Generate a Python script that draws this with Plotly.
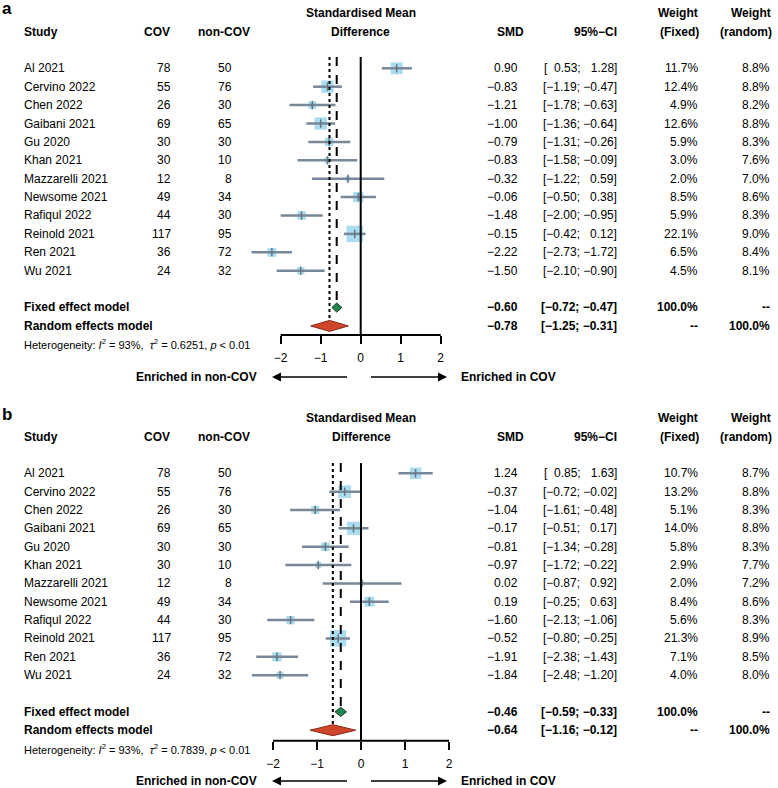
import plotly.graph_objects as go

W, H = 778, 788
FONT = "Liberation Sans, Arial, Helvetica, sans-serif"

# ---- data ---------------------------------------------------------------
studies = ["Al 2021", "Cervino 2022", "Chen 2022", "Gaibani 2021", "Gu 2020",
           "Khan 2021", "Mazzarelli 2021", "Newsome 2021", "Rafiqul 2022",
           "Reinold 2021", "Ren 2021", "Wu 2021"]
n_cov = [78, 55, 26, 69, 30, 30, 12, 49, 44, 117, 36, 24]
n_noncov = [50, 76, 30, 65, 30, 10, 8, 34, 30, 95, 72, 32]

# panel a
smd_a = [0.90, -0.83, -1.21, -1.00, -0.79, -0.83, -0.32, -0.06, -1.48, -0.15, -2.22, -1.50]
lo_a = [0.53, -1.19, -1.78, -1.36, -1.31, -1.58, -1.22, -0.50, -2.00, -0.42, -2.73, -2.10]
hi_a = [1.28, -0.47, -0.63, -0.64, -0.26, -0.09, 0.59, 0.38, -0.95, 0.12, -1.72, -0.90]
wfix_a = [11.7, 12.4, 4.9, 12.6, 5.9, 3.0, 2.0, 8.5, 5.9, 22.1, 6.5, 4.5]
wran_a = [8.8, 8.8, 8.2, 8.8, 8.3, 7.6, 7.0, 8.6, 8.3, 9.0, 8.4, 8.1]
fixed_a = [-0.60, -0.72, -0.47]
random_a = [-0.78, -1.25, -0.31]
tau2_a = "0.6251"

# panel b
smd_b = [1.24, -0.37, -1.04, -0.17, -0.81, -0.97, 0.02, 0.19, -1.60, -0.52, -1.91, -1.84]
lo_b = [0.85, -0.72, -1.61, -0.51, -1.34, -1.72, -0.87, -0.25, -2.13, -0.80, -2.38, -2.48]
hi_b = [1.63, -0.02, -0.48, 0.17, -0.28, -0.22, 0.92, 0.63, -1.06, -0.25, -1.43, -1.20]
wfix_b = [10.7, 13.2, 5.1, 14.0, 5.8, 2.9, 2.0, 8.4, 5.6, 21.3, 7.1, 4.0]
wran_b = [8.7, 8.8, 8.3, 8.8, 8.3, 7.7, 7.2, 8.6, 8.3, 8.9, 8.5, 8.0]
fixed_b = [-0.46, -0.59, -0.33]
random_b = [-0.64, -1.16, -0.12]
tau2_b = "0.7839"

i2 = "93%"
tick_vals = [-2, -1, 0, 1, 2]

# ---- style ---------------------------------------------------------------
SQ = "#87CEEB"
CI = "#778899"
FIX = "#23864d"
RAN = "#d0462b"

panels = [
    dict(label="a", smd=smd_a, lo=lo_a, hi=hi_a, wf=wfix_a, wr=wran_a,
         fixed=fixed_a, random=random_a, tau2=tau2_a,
         off=0, zero_px=360.7, unit=40.0, axis_py=335.0, top_py=57.0,
         row0=68.3, step=18.4, arrow_py=377.0),
    dict(label="b", smd=smd_b, lo=lo_b, hi=hi_b, wf=wfix_b, wr=wran_b,
         fixed=fixed_b, random=random_b, tau2=tau2_b,
         off=405, zero_px=361.0, unit=44.0, axis_py=740.7, top_py=463.0,
         row0=473.3, step=18.35, arrow_py=781.0),
]

X_LEFT, X_RIGHT = 240.0, 460.0


def px(x):
    return x / W


def py(y):
    return 1 - y / H


def num(v):
    s = f"{abs(v):.2f}"
    return ("\u2212" if v < 0 else "\u2007") + s


def smd_txt(v):
    return f"{v:.2f}".replace("-", "\u2212")


fig = go.Figure()
annotations = []
shapes = []


def txt(x, y, s, anchor="left", size=12, bold=False):
    if bold:
        s = f"<b>{s}</b>"
    annotations.append(dict(
        x=px(x), y=py(y), xref="paper", yref="paper", text=s, showarrow=False,
        xanchor=anchor, yanchor="middle", font=dict(size=size, family=FONT, color="black"),
        borderpad=0,
    ))


layout_axes = {}
for k, p in enumerate(panels):
    xname = "x" if k == 0 else f"x{k + 1}"
    yname = "y" if k == 0 else f"y{k + 1}"
    xkey = "xaxis" if k == 0 else f"xaxis{k + 1}"
    ykey = "yaxis" if k == 0 else f"yaxis{k + 1}"
    off = p["off"]
    n = len(studies)
    r_fixed, r_random = n + 1, n + 2
    r_top = (p["top_py"] - p["row0"]) / p["step"]
    r_bot = (p["axis_py"] - p["row0"]) / p["step"]

    layout_axes[xkey] = dict(
        domain=[px(X_LEFT), px(X_RIGHT)],
        range=[(X_LEFT - p["zero_px"]) / p["unit"], (X_RIGHT - p["zero_px"]) / p["unit"]],
        anchor=yname, showgrid=False, zeroline=False, showline=False,
        tickvals=tick_vals, ticks="outside", ticklen=8, tickwidth=2, tickcolor="black",
        tickfont=dict(size=12, family=FONT, color="black"), ticklabelstandoff=4,
    )
    layout_axes[ykey] = dict(
        domain=[py(p["axis_py"]), py(p["top_py"])],
        range=[r_bot, r_top], anchor=xname,
        showgrid=False, zeroline=False, showline=False, showticklabels=False, ticks="",
    )

    rows = list(range(n))

    # reference lines
    shapes.append(dict(type="line", xref=xname, yref=yname, x0=0, x1=0, y0=r_top, y1=r_bot,
                       line=dict(color="black", width=2)))
    shapes.append(dict(type="line", xref=xname, yref=yname, x0=p["fixed"][0], x1=p["fixed"][0],
                       y0=r_top, y1=r_fixed - 0.25, line=dict(color="black", width=2, dash="dash")))
    shapes.append(dict(type="line", xref=xname, yref=yname, x0=p["random"][0], x1=p["random"][0],
                       y0=r_top, y1=r_random - 0.3, line=dict(color="black", width=2, dash="dot")))
    # axis line
    shapes.append(dict(type="line", xref=xname, yref="paper", x0=tick_vals[0], x1=tick_vals[-1],
                       y0=py(p["axis_py"]), y1=py(p["axis_py"]), line=dict(color="black", width=2)))

    # weight squares
    fig.add_trace(go.Scatter(
        x=p["smd"], y=rows, xaxis=xname, yaxis=yname, mode="markers",
        marker=dict(symbol="square", color=SQ, size=[3.5 * w ** 0.5 for w in p["wf"]],
                    line=dict(width=0)),
        hoverinfo="skip", showlegend=False))

    # confidence intervals
    cx, cy = [], []
    for r, lo, hi in zip(rows, p["lo"], p["hi"]):
        cx += [lo, hi, None]
        cy += [r, r, None]
    fig.add_trace(go.Scatter(x=cx, y=cy, xaxis=xname, yaxis=yname, mode="lines",
                             line=dict(color=CI, width=2.5), hoverinfo="skip", showlegend=False))
    fig.add_trace(go.Scatter(
        x=p["smd"], y=rows, xaxis=xname, yaxis=yname, mode="markers",
        marker=dict(symbol="line-ns-open", size=6, color="#66737f", line=dict(color="#66737f", width=1.5)),
        hoverinfo="skip", showlegend=False))

    # summary diamonds
    for (est, lo, hi), r, col, edge, hh in [(p["fixed"], r_fixed, FIX, "#0f3d22", 0.25),
                                            (p["random"], r_random, RAN, "#8a2a16", 0.3)]:
        fig.add_trace(go.Scatter(
            x=[lo, est, hi, est, lo], y=[r, r - hh, r, r + hh, r], xaxis=xname, yaxis=yname,
            mode="lines", fill="toself", fillcolor=col, line=dict(color=edge, width=1),
            hoverinfo="skip", showlegend=False))

    # header
    txt(1, 9 + off, p["label"], size=17, bold=True)
    txt(p["zero_px"], 13 + off, "Standardised Mean", anchor="center", bold=True)
    txt(p["zero_px"], 32 + off, "Difference", anchor="center", bold=True)
    txt(23, 32 + off, "Study", bold=True)
    txt(157, 32 + off, "COV", anchor="center", bold=True)
    txt(224, 32 + off, "non-COV", anchor="center", bold=True)
    txt(525, 32 + off, "SMD", anchor="right", bold=True)
    txt(618, 32 + off, "95%\u2212CI", anchor="right", bold=True)
    txt(699, 13 + off, "Weight", anchor="right", bold=True)
    txt(700, 32 + off, "(Fixed)", anchor="right", bold=True)
    txt(772, 13 + off, "Weight", anchor="right", bold=True)
    txt(773, 32 + off, "(random)", anchor="right", bold=True)

    # study rows
    for r in rows:
        yy = p["row0"] + p["step"] * r
        txt(23, yy, studies[r])
        txt(172, yy, str(n_cov[r]), anchor="right")
        txt(233, yy, str(n_noncov[r]), anchor="right")
        txt(519, yy, smd_txt(p["smd"][r]), anchor="right")
        txt(618, yy, f"[{num(p['lo'][r])}; {num(p['hi'][r])}]", anchor="right")
        txt(699, yy, f"{p['wf'][r]:.1f}%", anchor="right")
        txt(771, yy, f"{p['wr'][r]:.1f}%", anchor="right")

    # model rows
    for name, (est, lo, hi), r, wf, wr in [("Fixed effect model", p["fixed"], r_fixed, "100.0%", "--"),
                                            ("Random effects model", p["random"], r_random, "--", "100.0%")]:
        yy = p["row0"] + p["step"] * r
        txt(23, yy, name, bold=True)
        txt(519, yy, smd_txt(est), anchor="right", bold=True)
        txt(618, yy, f"[{num(lo)}; {num(hi)}]", anchor="right", bold=True)
        txt(699, yy, wf, anchor="right", bold=True)
        txt(771, yy, wr, anchor="right", bold=True)

    het_y = p["row0"] + p["step"] * r_random + 18.3
    txt(23, het_y, f"Heterogeneity: <i>I</i><sup>2</sup> = {i2},  <i>\u03c4</i><sup>2</sup> = {p['tau2']}, "
                   f"<i>p</i> &lt; 0.01", size=11)

    # direction arrows
    ay_ = p["arrow_py"]
    for head, tail in [(272, 350), (447, 368)]:
        annotations.append(dict(x=px(head), y=py(ay_), xref="paper", yref="paper", text=" ",
                                showarrow=True, ax=tail - head, ay=0, arrowhead=2, arrowsize=1.2,
                                arrowwidth=1.5, arrowcolor="black"))
    txt(258, ay_, "Enriched in non-COV", anchor="right", bold=True)
    txt(460, ay_, "Enriched in COV", anchor="left", bold=True)

fig.update_layout(
    width=W, height=H, margin=dict(l=0, r=0, t=0, b=0),
    paper_bgcolor="white", plot_bgcolor="rgba(0,0,0,0)",
    showlegend=False, annotations=annotations, shapes=shapes,
    font=dict(family=FONT, color="black"),
    **layout_axes,
)

# page has a default 8px body margin; drop it so the figure sits at the window corner
fig.write_html("out.html", config={"displayModeBar": False},
               post_script="document.body.style.margin='0';")
